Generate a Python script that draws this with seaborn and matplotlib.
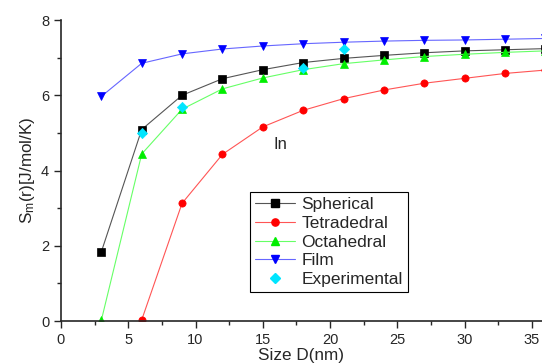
import pandas as pd
import matplotlib
matplotlib.use('Agg')
import matplotlib.pyplot as plt
from matplotlib.lines import Line2D
from matplotlib.ticker import MultipleLocator
import seaborn as sns

sns.set_style('ticks')
plt.rcParams['font.family'] = ['Liberation Sans', 'DejaVu Sans']
plt.rcParams['mathtext.fontset'] = 'custom'
plt.rcParams['mathtext.rm'] = 'Liberation Sans'
plt.rcParams['mathtext.it'] = 'Liberation Sans'

# data
size = [3, 6, 9, 12, 15, 18, 21, 24, 27, 30, 33, 36]
spherical = [1.84, 5.09, 6.0, 6.44, 6.68, 6.87, 6.98, 7.06, 7.13, 7.18, 7.21, 7.24]
octahedral = [0.02, 4.44, 5.63, 6.17, 6.46, 6.68, 6.84, 6.94, 7.03, 7.09, 7.14, 7.18]
film = [5.97, 6.85, 7.10, 7.23, 7.31, 7.37, 7.41, 7.44, 7.46, 7.47, 7.49, 7.51]
size_tet = [6, 9, 12, 15, 18, 21, 24, 27, 30, 33, 36]
tetradedral = [0.03, 3.13, 4.43, 5.16, 5.6, 5.91, 6.14, 6.32, 6.45, 6.58, 6.67]
size_exp = [6, 9, 18, 21]
experimental = [4.99, 5.70, 6.72, 7.24]

series = [
    ('Spherical', size, spherical, 's', 'black', '#555555'),
    ('Tetradedral', size_tet, tetradedral, 'o', 'red', '#ff5555'),
    ('Octahedral', size, octahedral, '^', '#00ee00', '#66ff66'),
    ('Film', size, film, 'v', '#0000ff', '#6666ff'),
]
ms = 5.2

fig = plt.figure(figsize=(5.42, 3.64), dpi=100)
ax = fig.add_axes([0.1125, 0.118, 0.8875, 0.827])

handles = []
for name, xs, ys, mk, col, lcol in series:
    df = pd.DataFrame({'x': xs, 'y': ys})
    sns.lineplot(data=df, x='x', y='y', ax=ax, color=lcol, lw=0.8,
                 marker=mk, markersize=ms, markerfacecolor=col,
                 markeredgecolor=col, markeredgewidth=0.5)
    handles.append(Line2D([], [], color=lcol, lw=0.8, marker=mk, markersize=ms,
                          markerfacecolor=col, markeredgecolor=col, label=name))

exp_df = pd.DataFrame({'x': size_exp, 'y': experimental})
sns.scatterplot(data=exp_df, x='x', y='y', ax=ax, marker='D', s=28,
                color='#00e5ff', edgecolor='#00e5ff', zorder=5)
handles.append(Line2D([], [], ls='none', marker='D', markersize=ms,
                      markerfacecolor='#00e5ff', markeredgecolor='#00e5ff',
                      label='Experimental'))

ax.set_xlim(0, 35.75)
ax.set_ylim(0, 8)
ax.xaxis.set_major_locator(MultipleLocator(5))
ax.xaxis.set_minor_locator(MultipleLocator(2.5))
ax.yaxis.set_major_locator(MultipleLocator(2))
ax.yaxis.set_minor_locator(MultipleLocator(1))
ax.tick_params(which='major', direction='out', length=5, width=1, labelsize=10.5)
ax.tick_params(which='minor', direction='out', length=3, width=1)
for s in ['top', 'right']:
    ax.spines[s].set_visible(False)
for s in ['left', 'bottom']:
    ax.spines[s].set_linewidth(1.2)

ax.set_xlabel('Size D(nm)', fontsize=12.3, labelpad=1)
ax.set_ylabel(r'S$_\mathrm{m}$(r)[J/mol/K)', fontsize=12.3, labelpad=3)
ax.text(16.3, 4.68, 'In', fontsize=12, ha='center', va='center')

leg = ax.legend(handles=handles, loc='upper left', bbox_to_anchor=(0.393, 0.4286),
                borderaxespad=0, fancybox=False, edgecolor='black', framealpha=1,
                fontsize=12.5, handlelength=2.3, handletextpad=0.35,
                labelspacing=0.2, borderpad=0.3)
leg.get_frame().set_linewidth(0.8)

fig.savefig('out.png', dpi=100)
